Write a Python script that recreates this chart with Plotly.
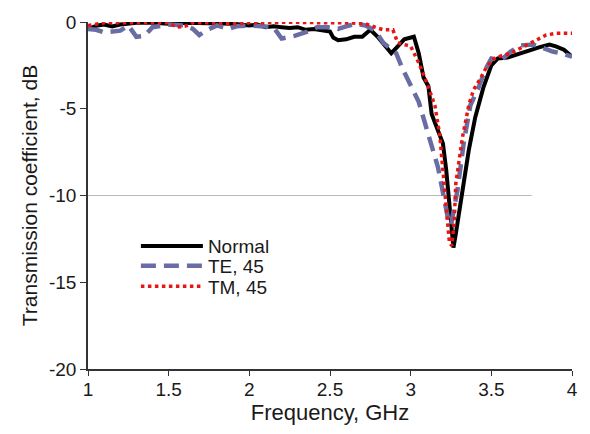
import plotly.graph_objects as go

# Normal incidence
f_normal = [1.0, 1.03, 1.06, 1.1, 1.15, 1.2, 1.25, 1.3, 1.4, 1.5, 1.6, 1.7, 1.8, 1.9, 2.0, 2.05,
            2.1, 2.15, 2.2, 2.25, 2.3, 2.35, 2.4, 2.45, 2.5, 2.52, 2.55, 2.6, 2.65, 2.7, 2.75,
            2.8, 2.85, 2.88, 2.92, 2.96, 3.02, 3.05, 3.08, 3.11, 3.13, 3.17, 3.2, 3.22, 3.235,
            3.25, 3.265, 3.28, 3.3, 3.33, 3.36, 3.4, 3.42, 3.45, 3.5, 3.54, 3.6, 3.65, 3.7,
            3.75, 3.8, 3.86, 3.9, 3.95, 4.0]
s_normal = [-0.4, -0.3, -0.2, -0.15, -0.25, -0.15, -0.1, -0.05, -0.05, -0.1, -0.05, -0.05, -0.05,
            -0.1, -0.2, -0.15, -0.3, -0.25, -0.3, -0.35, -0.3, -0.45, -0.4, -0.5, -0.55, -0.9,
            -1.05, -1.0, -0.85, -0.85, -0.45, -0.9, -1.5, -1.8, -1.4, -1.0, -0.85, -1.8, -3.2,
            -3.7, -5.3, -6.3, -7.0, -8.5, -10.0, -12.0, -13.0, -12.2, -11.0, -9.0, -7.4, -5.5,
            -4.8, -3.8, -2.5, -2.1, -2.05, -1.9, -1.7, -1.55, -1.45, -1.3, -1.4, -1.6, -2.0]

# TE, 45 deg
f_te = [1.0, 1.05, 1.1, 1.15, 1.2, 1.25, 1.3, 1.35, 1.4, 1.5, 1.6, 1.65, 1.69, 1.73, 1.8, 1.87,
        1.92, 2.0, 2.1, 2.15, 2.2, 2.28, 2.36, 2.42, 2.5, 2.55, 2.6, 2.66, 2.72, 2.78, 2.83,
        2.88, 2.91, 2.95, 2.99, 3.05, 3.11, 3.17, 3.21, 3.235, 3.25, 3.27, 3.29, 3.31, 3.33,
        3.37, 3.42, 3.46, 3.5, 3.56, 3.62, 3.68, 3.76, 3.82, 3.88, 3.95, 4.0]
s_te = [-0.4, -0.45, -0.6, -0.55, -0.5, -0.2, -0.85, -0.8, -0.3, -0.15, -0.2, -0.4, -0.75, -0.5,
        -0.2, -0.4, -0.25, -0.2, -0.25, -0.3, -0.95, -0.8, -0.55, -0.3, -0.3, -0.4, -0.25, -0.1,
        -0.2, -0.5, -1.2, -1.6, -1.8, -2.7, -3.5, -4.6, -6.5, -8.4, -10.3, -11.5, -11.7, -10.8,
        -9.7, -8.3, -6.9, -4.8, -3.8, -2.8, -2.1, -2.2, -1.7, -1.35, -1.3, -1.5, -1.7, -1.85, -2.0]

# TM, 45 deg
f_tm = [1.0, 1.05, 1.1, 1.2, 1.3, 1.4, 1.5, 1.55, 1.6, 1.65, 1.75, 1.85, 1.9, 2.0, 2.1, 2.2, 2.3,
        2.4, 2.5, 2.62, 2.72, 2.78, 2.83, 2.89, 2.92, 3.0, 3.05, 3.1, 3.15, 3.18, 3.2, 3.22,
        3.24, 3.255, 3.27, 3.28, 3.32, 3.36, 3.39, 3.43, 3.47, 3.51, 3.56, 3.62, 3.68, 3.74,
        3.8, 3.84, 3.9, 4.0]
s_tm = [-0.2, -0.15, -0.05, -0.05, -0.02, -0.02, -0.05, -0.3, -0.25, -0.05, -0.05, -0.1, -0.1,
        -0.05, -0.02, -0.02, -0.02, -0.05, -0.05, -0.05, -0.1, -0.3, -0.45, -0.45, -1.2, -1.4,
        -2.35, -3.5, -4.8, -6.5, -8.4, -10.8, -12.7, -12.9, -11.5, -9.3, -6.7, -4.8, -3.9,
        -3.3, -2.6, -2.15, -1.95, -1.8, -1.5, -1.2, -0.9, -0.75, -0.65, -0.65]

ref_level = -10
ref_x = [1.0, 3.75]

x_ticks = [1, 1.5, 2, 2.5, 3, 3.5, 4]
y_ticks = [0, -5, -10, -15, -20]

font = "Liberation Sans, Arial, sans-serif"
txt = "#1a1a1a"

fig = go.Figure()
fig.add_trace(go.Scatter(x=f_normal, y=s_normal, mode="lines", name="Normal", legend="legend",
                         line=dict(color="black", width=4)))
fig.add_trace(go.Scatter(x=f_te, y=s_te, mode="lines", name="TE, 45", legend="legend2",
                         line=dict(color="#6a6da3", width=4.5, dash="15px,8px")))
fig.add_trace(go.Scatter(x=f_tm, y=s_tm, mode="lines", name="TM, 45", legend="legend3",
                         line=dict(color="#e81515", width=3.5, dash="dot")))

fig.add_shape(type="line", x0=ref_x[0], x1=ref_x[1], y0=ref_level, y1=ref_level,
              xref="x", yref="y", line=dict(color="#b8b8b8", width=1.2), layer="below")

def leg(ypx):
    return dict(x=(136 - 88) / 485, y=1 - (ypx - 16) / 353, xanchor="left", yanchor="middle",
                bgcolor="rgba(0,0,0,0)", font=dict(size=19, color=txt, family=font),
                itemwidth=62, borderwidth=0)

fig.update_layout(
    width=590, height=434,
    margin=dict(l=88, r=17, t=16, b=65),
    paper_bgcolor="white", plot_bgcolor="white",
    font=dict(family=font, size=19, color=txt),
    showlegend=True,
    legend=leg(244), legend2=leg(264), legend3=leg(285),
    xaxis=dict(range=[1, 4], tickvals=x_ticks, ticktext=[str(v) for v in x_ticks],
               showgrid=False, zeroline=False, showline=True, linecolor="#333", linewidth=1.5,
               ticks="outside", ticklen=5, tickcolor="#333", tickfont=dict(size=19),
               ticklabelstandoff=-3,
               title=dict(text="Frequency, GHz", font=dict(size=22), standoff=0)),
    yaxis=dict(range=[-20, 0], tickvals=y_ticks, ticktext=[str(v) for v in y_ticks],
               showgrid=False, zeroline=False, showline=True, linecolor="#333", linewidth=1.5,
               ticks="outside", ticklen=6, tickcolor="#333", tickfont=dict(size=19),
               title=dict(text="Transmission coefficient, dB", font=dict(size=21), standoff=6)),
)

fig.write_html("out.html")
